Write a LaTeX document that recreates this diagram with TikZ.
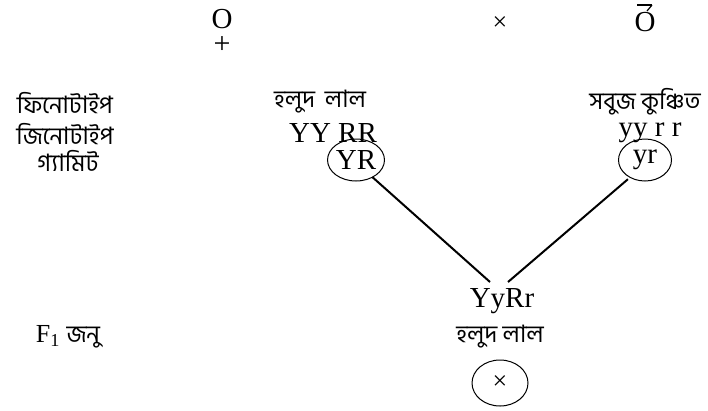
\documentclass[tikz,border=0pt]{standalone}
\usepackage{fontspec}
\usetikzlibrary{shapes.geometric}
\setmainfont{Liberation Serif}
\newfontfamily\bn[Script=Bengali]{Hind Siliguri}
\begin{document}
\begin{tikzpicture}[x=1pt,y=-1pt,
  lat/.style={font=\fontsize{29}{30}\selectfont, inner sep=0pt},
  ben/.style={font=\bn\fontsize{24}{26}\selectfont, inner sep=0pt},
  gam/.style={draw, ellipse, line width=1pt, minimum width=53pt, minimum height=42pt, inner sep=0pt},
  link/.style={line width=2pt}]
\useasboundingbox (0,0) rectangle (708,410);
% parents' symbols
\node[lat] (fo) at (222,19) {O};
\node[font=\fontsize{30}{30}\selectfont, inner sep=0pt] (fp) at (222,45) {+};
\node[font=\fontsize{26}{26}\selectfont, inner sep=0pt] (cross) at (500,24) {×};
\node[lat] (mo) at (645,22) {O};
\draw[line width=2pt] (637,5) -- (652,5);
\draw[line width=1.2pt] (652,5) -- (647,11);
% row labels
\node[ben] (lp) at (65,103) {ফিনোটাইপ};
\node[ben] (lg) at (65,134) {জিনোটাইপ};
\node[ben] (lgm) at (68,161) {গ্যামিট};
\node[inner sep=0pt] (lf) at (68,337) {\fontsize{26}{27}\selectfont F\textsubscript{1} \bn\fontsize{24}{26}\selectfont জনু};
% parent 1
\node[ben] (p1) at (320,102) {হলুদ\hspace{10pt}লাল};
\node[lat] (g1) at (333,133) {YY RR};
\node[lat, gam] (y1) at (356,160) {YR};
% parent 2
\node[ben] (p2) at (645,102) {সবুজ কুঞ্চিত};
\node[lat] (g2) at (650,133) {yy r r};
\node[lat, gam] (y2) at (645,160) {yr};
% offspring
\node[lat] (f1) at (502,301) {YyRr};
\node[ben] (f1p) at (500,337) {হলুদ লাল};
\node[gam, minimum width=56pt, minimum height=46pt, font=\fontsize{26}{26}\selectfont] (fx) at (500,383) {×};
\coordinate (e1) at (490,282);
\coordinate (e2) at (508,282);
\draw[link] (y1.south east) ++(-4,2) -- (e1);
\draw[link] (y2.south west) ++(2,4) -- (e2);
\end{tikzpicture}
\end{document}
